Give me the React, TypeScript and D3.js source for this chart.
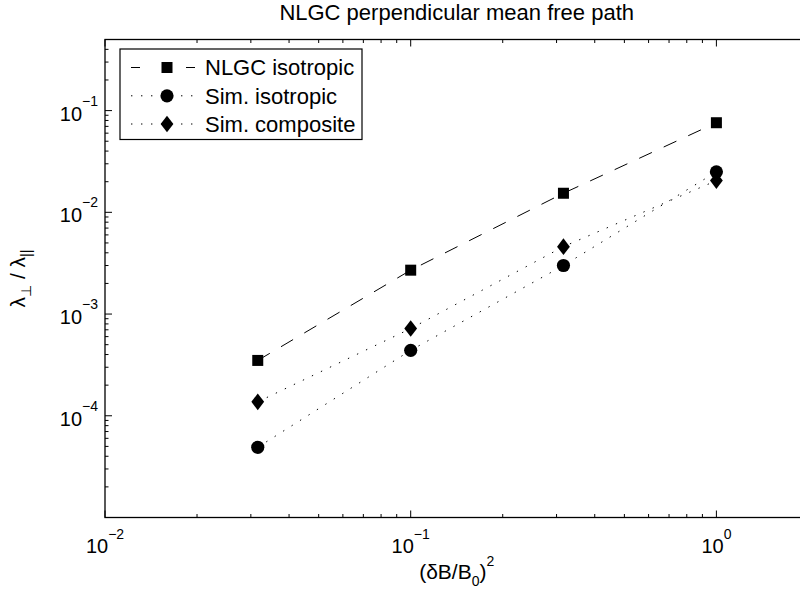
import React from "react";
import * as d3 from "d3";

const xVals = [0.0316, 0.1, 0.316, 1];
const nlgcIso = [3.5e-4, 2.7e-3, 1.54e-2, 7.6e-2];
const simIso = [4.9e-5, 4.4e-4, 3.0e-3, 2.5e-2];
const simComp = [1.37e-4, 7.2e-4, 4.6e-3, 2.05e-2];
const seriesNames = ["NLGC isotropic", "Sim. isotropic", "Sim. composite"];
const xTickExps = [-2, -1, 0];
const yTickExps = [-4, -3, -2, -1];
const xDomain = [0.01, 2];
const yDomain = [1e-5, 0.5];
const titleText = "NLGC perpendicular mean free path";

const FONT = "'Liberation Sans', Arial, Helvetica, sans-serif";
const W = 800;
const H = 590;
const L = 105;
const T = 39.5;
const B = 517.5;
const R = 105 + Math.log10(xDomain[1] / xDomain[0]) * 305.7;

function minorTicks(lo: number, hi: number) {
  const out: number[] = [];
  for (let e = Math.floor(Math.log10(lo)); e <= Math.ceil(Math.log10(hi)); e++) {
    for (let m = 1; m <= 9; m++) {
      const v = m * Math.pow(10, e);
      if (v >= lo * 0.9999 && v <= hi * 1.0001) out.push(v);
    }
  }
  return out;
}

function Square({ x, y }: { x: number; y: number }) {
  return <rect x={x - 5.5} y={y - 5.5} width={11} height={11} fill="#000" />;
}
function Circle({ x, y }: { x: number; y: number }) {
  return <circle cx={x} cy={y} r={6.6} fill="#000" />;
}
function Diamond({ x, y }: { x: number; y: number }) {
  return (
    <path
      d={`M${x},${y - 8.3}L${x + 6.4},${y}L${x},${y + 8.3}L${x - 6.4},${y}Z`}
      fill="#000"
    />
  );
}

export default function App() {
  const x = d3.scaleLog().domain(xDomain).range([L, R]);
  const y = d3.scaleLog().domain(yDomain).range([B, T]);
  const line = d3
    .line<[number, number]>()
    .x((d) => x(d[0]))
    .y((d) => y(d[1]));
  const pts = (vals: number[]) => xVals.map((v, i) => [v, vals[i]] as [number, number]);

  const xMinor = minorTicks(xDomain[0], xDomain[1]).filter(
    (v) => !xTickExps.some((e) => Math.abs(v - Math.pow(10, e)) < 1e-12)
  );
  const yMinor = minorTicks(yDomain[0], yDomain[1]).filter(
    (v) => Math.abs(Math.log10(v) - Math.round(Math.log10(v))) > 1e-9
  );
  const yMajor = [-5, -4, -3, -2, -1].map((e) => Math.pow(10, e));

  const series = [
    { vals: nlgcIso, dash: "14 13", legendDash: "9 46", Marker: Square },
    { vals: simIso, dash: "1.4 8.6", legendDash: "1.4 8.6", Marker: Circle },
    { vals: simComp, dash: "1.4 8.6", legendDash: "1.4 8.6", Marker: Diamond },
  ];
  const legendRows = [67.5, 95.8, 124];

  return (
    <div style={{ position: "absolute", left: 0, top: 0 }}>
      <svg width={W} height={H} style={{ display: "block", background: "#fff" }} fontFamily={FONT}>
        <rect x={0} y={0} width={W} height={H} fill="#fff" />
        {/* title */}
        <text x={(L + R) / 2} y={20} textAnchor="middle" fontSize={22} fill="#000">
          {titleText}
        </text>
        {/* ticks */}
        <g stroke="#000" strokeWidth={1}>
          {xTickExps.map((e) => {
            const px = x(Math.pow(10, e));
            return (
              <g key={"xm" + e}>
                <line x1={px} x2={px} y1={B} y2={B - 7} />
                <line x1={px} x2={px} y1={T} y2={T + 7} />
              </g>
            );
          })}
          {xMinor.map((v, i) => {
            const px = x(v);
            return (
              <g key={"xn" + i}>
                <line x1={px} x2={px} y1={B} y2={B - 3.5} />
                <line x1={px} x2={px} y1={T} y2={T + 3.5} />
              </g>
            );
          })}
          {yMajor.map((v, i) => (
            <line key={"ym" + i} x1={L} x2={L + 7} y1={y(v)} y2={y(v)} />
          ))}
          {yMinor.map((v, i) => (
            <line key={"yn" + i} x1={L} x2={L + 3.5} y1={y(v)} y2={y(v)} />
          ))}
        </g>
        {/* axes box */}
        <rect x={L} y={T} width={R - L} height={B - T} fill="none" stroke="#000" strokeWidth={1.3} />
        {/* x tick labels */}
        {xTickExps.map((e) => (
          <text key={"xl" + e} x={x(Math.pow(10, e))} y={552.5} textAnchor="middle" fontSize={20} fill="#000">
            10
            <tspan dy={-14} fontSize={14}>
              {e < 0 ? "\u2212" + Math.abs(e) : String(e)}
            </tspan>
          </text>
        ))}
        {/* y tick labels */}
        {yTickExps.map((e) => (
          <text key={"yl" + e} x={98} y={y(Math.pow(10, e)) + 10} textAnchor="end" fontSize={20} fill="#000">
            10
            <tspan dy={-15} fontSize={14}>
              {e < 0 ? "\u2212" + Math.abs(e) : String(e)}
            </tspan>
          </text>
        ))}
        {/* x label */}
        <text x={(L + R) / 2} y={579} textAnchor="middle" fontSize={21} fill="#000">
          (δB/B
          <tspan dy={7} fontSize={14}>0</tspan>
          <tspan dy={-7}>)</tspan>
          <tspan dy={-13} fontSize={14}>2</tspan>
        </text>
        {/* y label */}
        <text
          transform={`translate(25,${(T + B) / 2}) rotate(-90)`}
          textAnchor="middle"
          fontSize={21}
          fill="#000"
        >
          λ<tspan dy={6} fontSize={14}>⊥</tspan>
          <tspan dy={-6}> / λ</tspan>
          <tspan dy={6} fontSize={14}>||</tspan>
        </text>
        {/* series */}
        {series.map((s, i) => (
          <g key={"s" + i}>
            <path d={line(pts(s.vals)) || ""} fill="none" stroke="#000" strokeWidth={1} strokeDasharray={s.dash} />
            {pts(s.vals).map((p, j) => (
              <s.Marker key={j} x={x(p[0])} y={y(p[1])} />
            ))}
          </g>
        ))}
        {/* legend */}
        <rect x={120} y={49} width={242} height={90.5} fill="#fff" stroke="#000" strokeWidth={1.2} />
        {series.map((s, i) => (
          <g key={"lg" + i}>
            <line
              x1={131}
              x2={197}
              y1={legendRows[i]}
              y2={legendRows[i]}
              stroke="#000"
              strokeWidth={1}
              strokeDasharray={s.legendDash}
            />
            <s.Marker x={167} y={legendRows[i]} />
            <text x={205} y={legendRows[i] + 7.7} fontSize={22} fill="#000">
              {seriesNames[i]}
            </text>
          </g>
        ))}
      </svg>
    </div>
  );
}
